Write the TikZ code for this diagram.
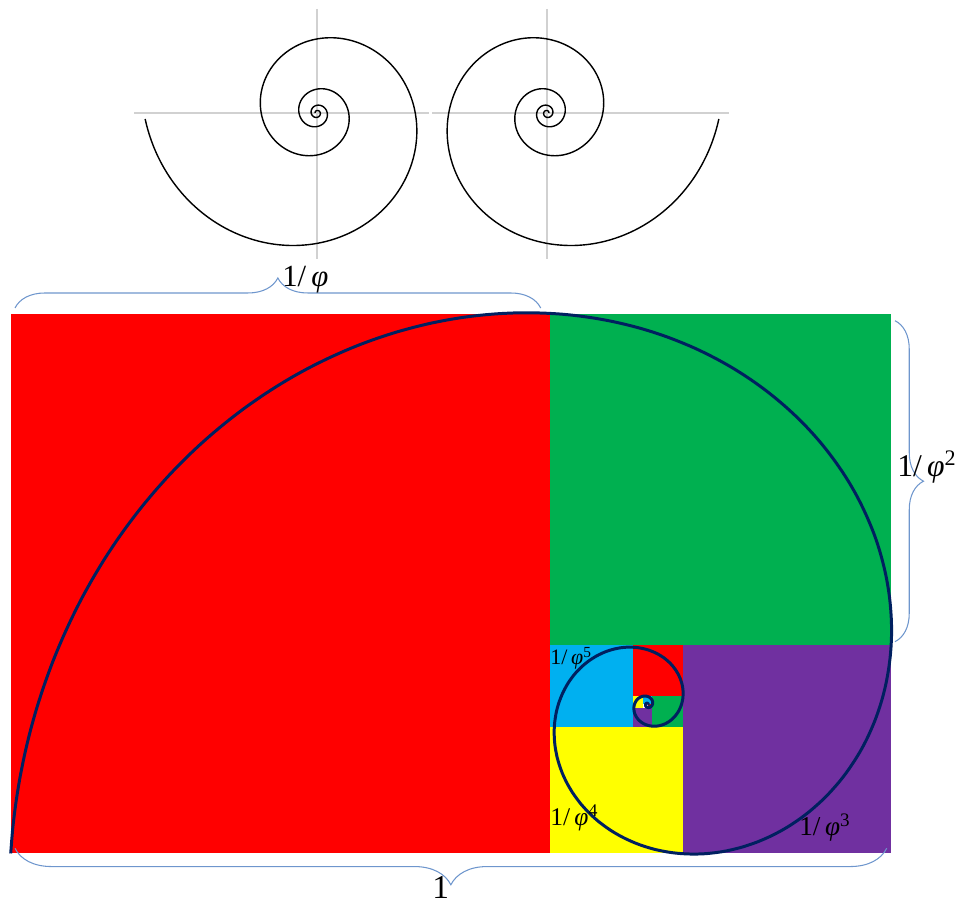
\documentclass[tikz,border=0pt]{standalone}
\usepackage{fontspec}
\setmainfont{Liberation Serif}
\usepackage{tikz}
\usetikzlibrary{decorations.pathreplacing}

\definecolor{sqred}{HTML}{FF0000}
\definecolor{sqgreen}{HTML}{00B050}
\definecolor{sqpurple}{HTML}{7030A0}
\definecolor{sqyellow}{HTML}{FFFF00}
\definecolor{sqcyan}{HTML}{00B0F0}
\definecolor{spiralblue}{HTML}{002060}
\definecolor{bracecol}{RGB}{110,150,205}

\tikzset{
    axisline/.style={draw=black!18, line width=0.7pt},
    shell/.style={draw=black, line width=0.8pt, line join=round},
    golden/.style={draw=spiralblue, line width=1.7pt, line join=round},
    curly/.style={draw=bracecol, line width=0.6pt, decorate, decoration={brace, amplitude=#1}},
    lab/.style={anchor=base west, inner sep=0pt, font=\fontsize{#1}{#1}\selectfont},
}

\begin{document}
\begin{tikzpicture}
        \useasboundingbox (0,0) rectangle (19.16,18.1);

        \draw[axisline] (2.68,15.84) -- (8.58,15.84);
        \draw[axisline] (6.34,17.92) -- (6.34,12.92);
        \draw[axisline] (8.64,15.84) -- (14.57,15.84);
        \draw[axisline] (10.94,17.92) -- (10.94,12.92);

        \begin{scope}[shift={(6.34,15.84)}]
            \draw[shell] plot[domain=182:1620, samples=700, smooth] (\x:{3.46*exp(-0.003143*(\x-180))});
        \end{scope}
        \begin{scope}[shift={(10.94,15.84)}, xscale=-1]
            \draw[shell] plot[domain=182:1620, samples=700, smooth] (\x:{3.46*exp(-0.003143*(\x-180))});
        \end{scope}

        \fill[sqred] (0.214,1.03) rectangle (11.0,11.82);
        \fill[sqgreen] (11.0,5.2) rectangle (17.814,11.82);
        \fill[sqpurple] (13.654,1.03) rectangle (17.814,5.2);
        \fill[sqyellow] (11.0,1.03) rectangle (13.654,3.566);
        \fill[sqcyan] (11.0,3.566) rectangle (12.666,5.2);
        \fill[sqred] (12.666,4.18) rectangle (13.654,5.2);
        \fill[sqgreen] (13.034,3.566) rectangle (13.654,4.18);
        \fill[sqpurple] (12.666,3.566) rectangle (13.034,3.934);
        \fill[sqyellow] (12.666,3.934) rectangle (12.866,4.18);
        \fill[sqcyan] (12.866,4.012) rectangle (13.034,4.18);
        \fill[sqred] (12.956,3.934) rectangle (13.034,4.012);

        \begin{scope}[shift={(0.214,1.03)}, x=17.6cm, y=17.46cm, shift={(0.723607,0.170820)}]
            \draw[golden] plot[domain=0:1300, samples=600, smooth] ({193.28-\x}:{0.743496*exp(-0.0053468*\x)});
        \end{scope}

        \coordinate (topL) at (0.3,11.94);
        \coordinate (topR) at (10.814,11.94);
        \coordinate (sideT) at (17.9,11.686);
        \coordinate (sideB) at (17.9,5.266);
        \coordinate (botR) at (17.734,1.134);
        \coordinate (botL) at (0.3,1.134);

        \draw[curly=0.6cm] (topL) -- (topR);
        \draw[curly=0.57cm] (sideT) -- (sideB);
        \draw[curly=0.73cm] (botR) -- (botL);

        \node[lab=17.5] (phione) at (5.64,12.366) {1/\,\textit{φ}};
        \node[lab=18] (phitwo) at (17.94,8.56) {1/\,\textit{φ}\textsuperscript{2}};
        \node[lab=15.5] (phithree) at (15.98,1.386) {1/\,\textit{φ}\textsuperscript{3}};
        \node[lab=14.5] (phifour) at (11.0,1.58) {1/\,\textit{φ}\textsuperscript{4}};
        \node[lab=12.5] (phifive) at (11.0,4.8) {1/\,\textit{φ}\textsuperscript{5}};
        \node[lab=19] (unit) at (8.64,0.13) {1};
\end{tikzpicture}
\end{document}
